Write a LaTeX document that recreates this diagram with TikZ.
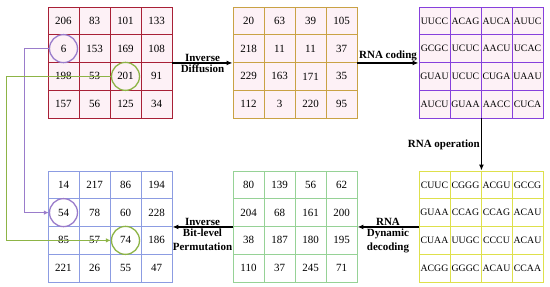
\documentclass[tikz,border=0pt]{standalone}
\usepackage{fontspec}
\setmainfont{Liberation Serif}
\usetikzlibrary{arrows.meta}
\definecolor{cA}{HTML}{A82036}
\definecolor{cB}{HTML}{C9A245}
\definecolor{cC}{HTML}{8640DC}
\definecolor{cD}{HTML}{8C9CE2}
\definecolor{cE}{HTML}{96D296}
\definecolor{cF}{HTML}{DEE04C}
\definecolor{pinkfill}{HTML}{FDF1F6}
\definecolor{purp}{HTML}{9A7CCB}
\definecolor{grn}{HTML}{8DB446}
\newcommand\mygrid[5]{%
  \foreach \v [count=\i from 0] in {#5} {
    \pgfmathtruncatemacro\rr{\i/4}
    \pgfmathtruncatemacro\cc{mod(\i,4)}
    \node[cell,#4] (#1-\i) at ({#2+31*\cc+15.5},{#3+27.75*\rr+13.875}) {\v};
  }
}
\begin{document}
\begin{tikzpicture}[x=1pt,y=-1pt,
  cell/.style={rectangle,draw,line width=0.9pt,minimum width=31pt,minimum height=27.75pt,inner sep=0pt,font=\fontsize{11}{13}\selectfont},
  rna/.style={font=\fontsize{9.8}{12}\selectfont},
  arr/.style={line width=1.5pt,-{Latex[length=6pt,width=5pt]}},
  lab/.style={font=\fontsize{11}{14}\selectfont\bfseries,inner sep=1pt,align=center},
  ring/.style={circle,line width=1.3pt,minimum width=28pt,minimum height=27pt,inner sep=0pt},
  link/.style={line width=1.2pt,-{Latex[length=5pt,width=4.5pt]}}]
\useasboundingbox (0,0) rectangle (550,287);
\fill[white] (0,0) rectangle (550,287);
\mygrid{a}{48}{7}{draw=cA,fill=pinkfill}{206,83,101,133,6,153,169,108,198,53,201,91,157,56,125,34}
\mygrid{b}{233}{7}{draw=cB,fill=pinkfill}{20,63,39,105,218,11,11,37,229,163,171,35,112,3,220,95}
\mygrid{c}{419}{7}{draw=cC,fill=pinkfill,rna}{UUCC,ACAG,AUCA,AUUC,GCGC,UCUC,AACU,UCAC,GUAU,UCUC,CUGA,UAAU,AUCU,GUAA,AACC,CUCA}
\mygrid{d}{48}{171}{draw=cD,fill=white}{14,217,86,194,54,78,60,228,85,57,74,186,221,26,55,47}
\mygrid{e}{233}{171}{draw=cE,fill=white}{80,139,56,62,204,68,161,200,38,187,180,195,110,37,245,71}
\mygrid{f}{419}{171}{draw=cF,fill=white,rna}{CUUC,CGGG,ACGU,GCCG,GUAA,CCAG,CCAG,ACAU,CUAA,UUGC,CCCU,ACAU,ACGG,GGGC,ACAU,CCAA}
% circles
\node[ring,draw=purp] (r1) at (a-4) {};
\node[ring,draw=grn] (r2) at (a-10) {};
\node[ring,draw=purp] (r3) at (d-4) {};
\node[ring,draw=grn] (r4) at (d-10) {};
% links
\draw[link,purp] (r1.west) -- ++(-24,0) |- (r3.west);
\draw[link,grn] (r2.west) -- ++(-104,0) |- (r4.west);
% main arrows
\draw[arr] (a-7.south east) -- node[lab,above] {Inverse} node[lab,below] {Diffusion} (b-4.south west);
\draw[arr] (b-7.south east) -- node[lab,above] {RNA coding} (c-4.south west);
\draw[arr] (c-13.south east) -- node[lab,left] {RNA operation} (f-1.north east);
\draw[arr] (f-4.south west) -- node[lab,above] {RNA} node[lab,below] {Dynamic\\decoding} (e-7.south east);
\draw[arr] (e-4.south west) -- node[lab,above] {Inverse} node[lab,below] {Bit-level\\Permutation} (d-7.south east);
\end{tikzpicture}
\end{document}
